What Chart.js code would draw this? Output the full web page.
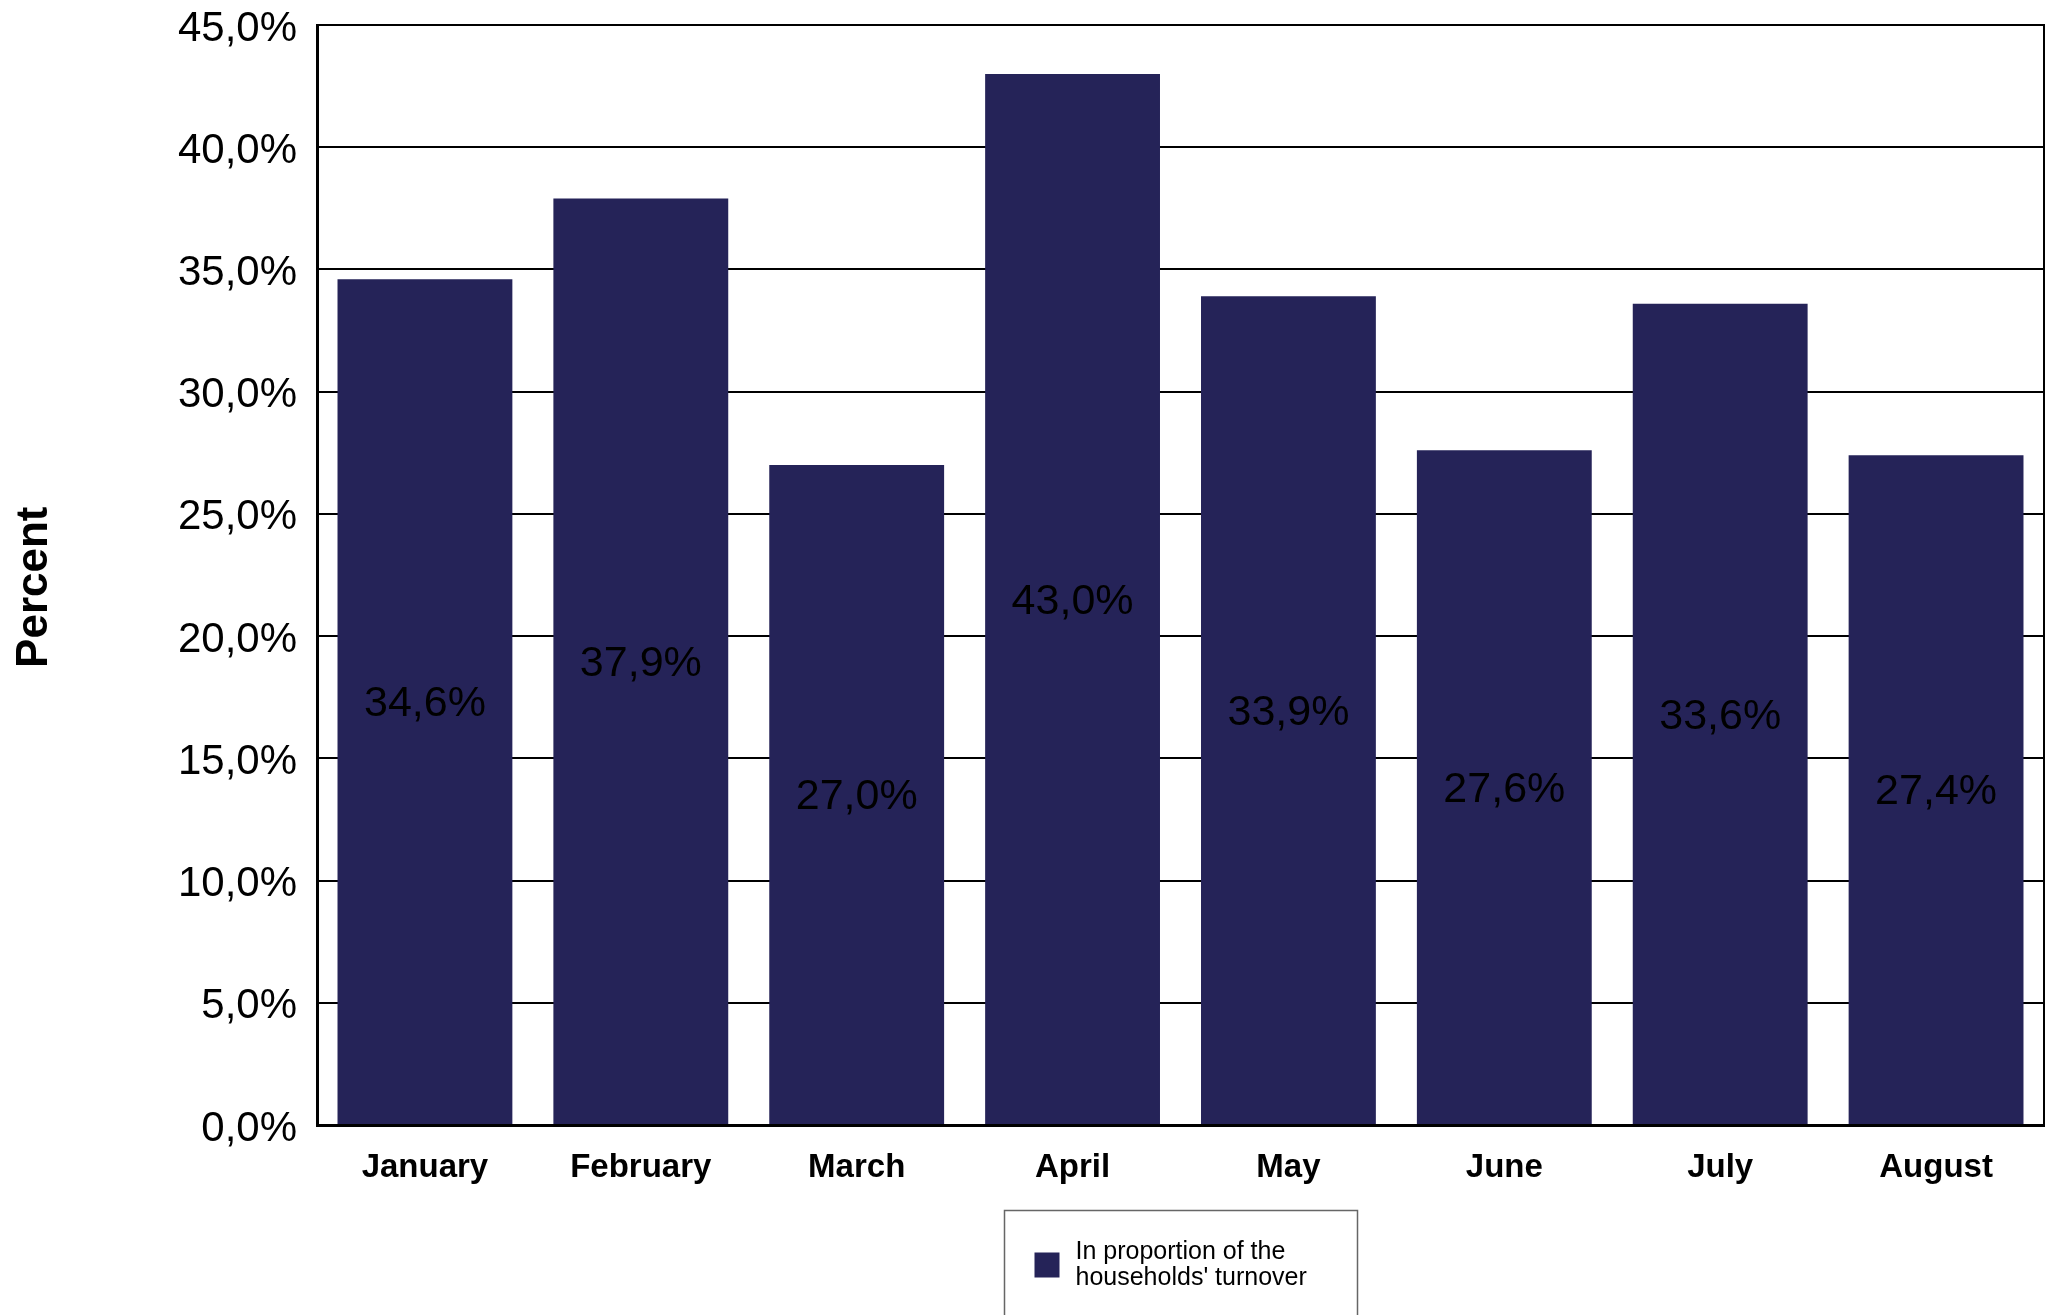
<!DOCTYPE html>
<html><head><meta charset="utf-8">
<style>html,body{margin:0;padding:0;background:#fff;overflow:hidden}#wrap{width:2055px;height:1315px;}</style>
<script src="https://cdn.jsdelivr.net/npm/chart.js@4.4.1/dist/chart.umd.min.js"></script>
</head><body><div id="wrap"><canvas id="c" width="2055" height="1315"></canvas></div>
<script>
const categories = ["January","February","March","April","May","June","July","August"];
const values = [34.6, 37.9, 27.0, 43.0, 33.9, 27.6, 33.6, 27.4];
const yMin = 0, yMax = 45, yStep = 5;
const seriesLabelLines = ["In proportion of the", "households' turnover"];
const axisTitle = "Percent";
const barColor = "#252358";
const FONT = "'Liberation Sans', Arial, sans-serif";
const fmt = v => Number(v).toFixed(1).replace('.', ',') + '%';

const valueLabels = {
  id: 'valueLabels',
  afterDatasetsDraw(chart) {
    const ctx = chart.ctx;
    const meta = chart.getDatasetMeta(0);
    ctx.save();
    ctx.font = "43px " + FONT;
    ctx.fillStyle = "#000";
    ctx.textAlign = "center";
    ctx.textBaseline = "middle";
    meta.data.forEach((bar, i) => {
      const v = chart.data.datasets[0].data[i];
      ctx.fillText(fmt(v), bar.x, (bar.y + bar.base) / 2 + 3);
    });
    ctx.restore();
  }
};

const boxLegend = {
  id: 'boxLegend',
  afterDraw(chart) {
    const ctx = chart.ctx;
    const ca = chart.chartArea;
    const cx = (ca.left + ca.right) / 2;
    const w = 353, x0 = Math.round(cx - w / 2) + 0.5, y0 = ca.bottom + 85.5;
    ctx.save();
    ctx.fillStyle = "#fff";
    ctx.fillRect(x0, y0, w, 200);
    ctx.strokeStyle = "#666";
    ctx.lineWidth = 1.5;
    ctx.strokeRect(x0, y0, w, 200);
    ctx.fillStyle = chart.data.datasets[0].backgroundColor;
    ctx.fillRect(x0 + 30, y0 + 42, 25, 25);
    ctx.fillStyle = "#000";
    ctx.font = "25px " + FONT;
    ctx.textAlign = "left";
    ctx.textBaseline = "middle";
    seriesLabelLines.forEach((t, i) => ctx.fillText(t, x0 + 71, y0 + 42 + i * 25.5));
    ctx.restore();
  }
};

new Chart(document.getElementById('c'), {
  type: 'bar',
  data: {
    labels: categories,
    datasets: [{
      label: seriesLabelLines.join(' '),
      data: values,
      backgroundColor: barColor,
      borderWidth: 0,
      categoryPercentage: 1.0,
      barPercentage: 0.81
    }]
  },
  options: {
    responsive: false,
    animation: false,
    devicePixelRatio: 1,
    layout: { padding: { top: 25, right: 11, bottom: 0, left: 0 } },
    plugins: { legend: { display: false }, tooltip: { enabled: false } },
    scales: {
      x: {
        grid: { display: false, drawTicks: false },
        border: { display: true, color: '#000', width: 3 },
        ticks: { color: '#000', font: { family: FONT, size: 33, weight: 'bold' }, padding: 23, maxRotation: 0 },
        afterFit: s => { s.height = 190; }
      },
      y: {
        min: yMin, max: yMax,
        ticks: { stepSize: yStep, callback: v => fmt(v), color: '#000', font: { family: FONT, size: 42 }, padding: 20, labelOffset: 4 },
        grid: { color: '#000', lineWidth: 2, drawTicks: false },
        border: { display: true, color: '#000', width: 3 },
        title: { display: true, text: axisTitle + '  ', color: '#000', font: { family: FONT, size: 44, weight: 'bold' }, padding: { top: 8, bottom: 0 } },
        afterFit: s => { s.width = 317; s.paddingTop = 0; s.paddingBottom = 0; }
      },
      y2: {
        position: 'right',
        min: yMin, max: yMax,
        ticks: { display: false },
        grid: { display: false, drawTicks: false },
        border: { display: true, color: '#000', width: 2 },
        afterFit: s => { s.width = 0; s.paddingTop = 0; s.paddingBottom = 0; }
      }
    }
  },
  plugins: [valueLabels, boxLegend]
});
</script>
</body></html>
